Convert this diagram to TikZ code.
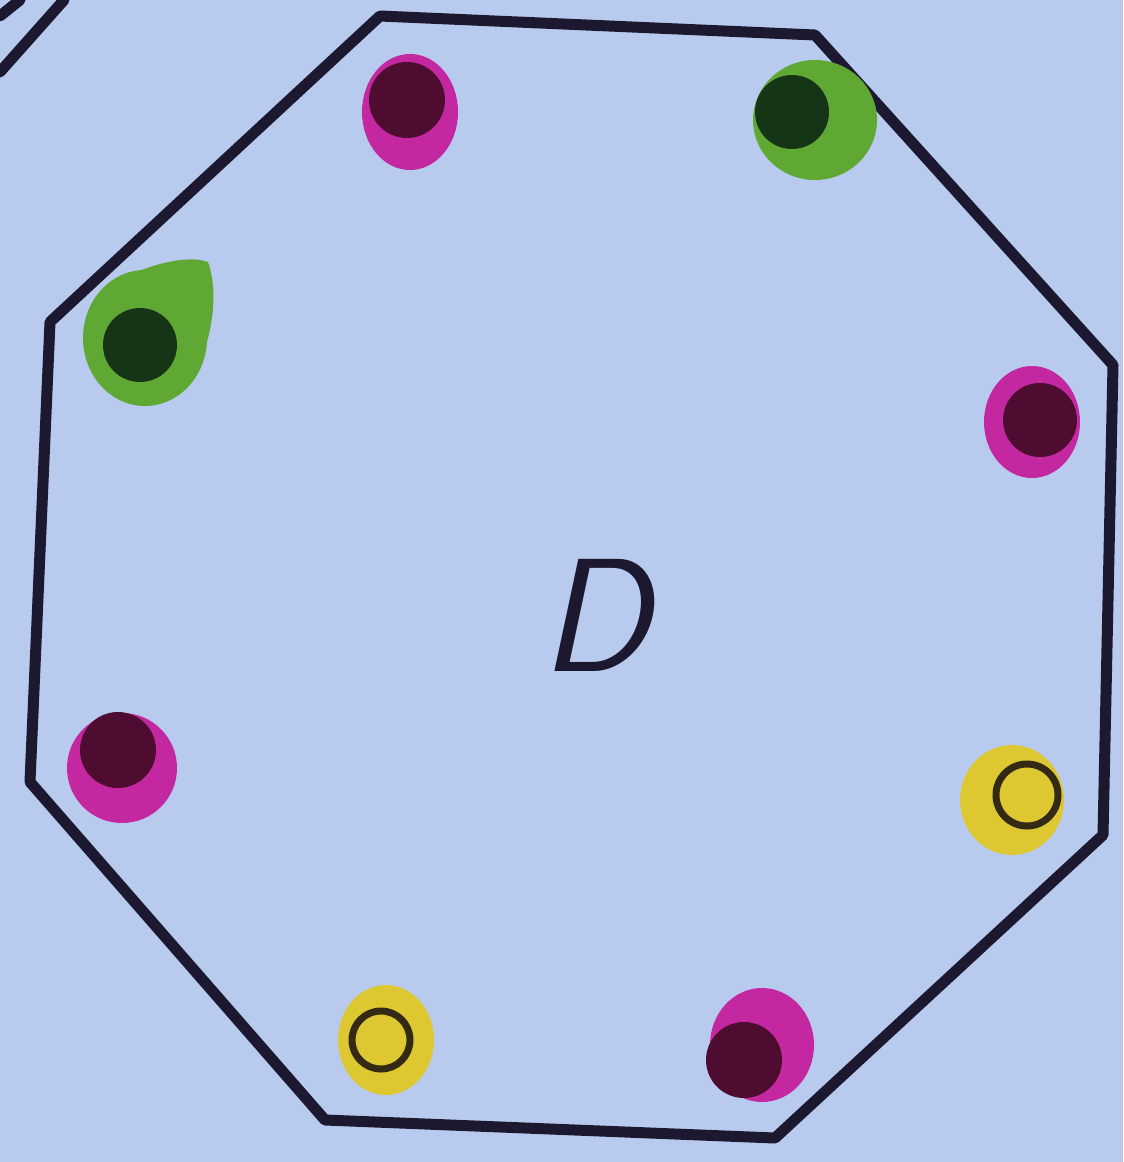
\documentclass[tikz,border=0pt]{standalone}
\usepackage{fontspec}
\definecolor{paper}{RGB}{184,202,238}
\definecolor{ink}{RGB}{28,24,48}
\definecolor{mag}{RGB}{196,40,160}
\definecolor{magdark}{RGB}{78,12,48}
\definecolor{grn}{RGB}{96,168,52}
\definecolor{grndark}{RGB}{22,52,22}
\definecolor{yel}{RGB}{222,200,50}
\definecolor{yelring}{RGB}{52,42,20}
\tikzset{
  px/.style={x=0.02cm,y=-0.02cm},
  outline/.style={draw=ink,line width=11*0.02cm,line join=round,line cap=round},
  blot/.style={fill=#1,draw=none},
  ring/.style={draw=yelring,line width=7*0.02cm}
}
\begin{document}
\begin{tikzpicture}[px]
\fill[paper] (0,0) rectangle (1123,1162);
\useasboundingbox (0,0) rectangle (1123,1162);
% strokes in the top-left corner
\draw[outline] (0,72) -- (64,0);
\draw[outline] (0,16) -- (20,0);
% octagon
\coordinate (v1) at (380,16);
\coordinate (v2) at (815,35);
\coordinate (v3) at (1113,365);
\coordinate (v4) at (1103,835);
\coordinate (v5) at (775,1138);
\coordinate (v6) at (325,1120);
\coordinate (v7) at (30,782);
\coordinate (v8) at (50,322);
\draw[outline] (v1) -- (v2) -- (v3) -- (v4) -- (v5) -- (v6) -- (v7) -- (v8) -- cycle;
% magenta top
\fill[blot=mag] (410,112) ellipse [x radius=48, y radius=58];
\fill[blot=magdark] (407,100) circle [radius=38];
% green top right
\fill[blot=grn] (815,120) ellipse [x radius=62, y radius=60];
\fill[blot=grndark] (792,112) circle [radius=37];
% green left (teardrop)
\fill[blot=grn] (145,338) ellipse [x radius=62, y radius=68];
\fill[blot=grn] (110,285) .. controls (150,262) and (190,255) .. (208,262)
  .. controls (218,290) and (214,330) .. (198,368) -- (145,338) -- cycle;
\fill[blot=grndark] (140,345) circle [radius=37];
% magenta right
\fill[blot=mag] (1032,422) ellipse [x radius=48, y radius=56];
\fill[blot=magdark] (1040,420) circle [radius=37];
% magenta left
\fill[blot=mag] (122,768) ellipse [x radius=55, y radius=55];
\fill[blot=magdark] (118,750) circle [radius=38];
% yellow right
\fill[blot=yel] (1012,800) ellipse [x radius=52, y radius=55];
\draw[ring] (1027,795) circle [radius=31];
% yellow bottom
\fill[blot=yel] (386,1040) ellipse [x radius=48, y radius=55];
\draw[ring] (381,1040) circle [radius=29];
% magenta bottom
\fill[blot=mag] (762,1045) ellipse [x radius=52, y radius=57];
\fill[blot=magdark] (744,1060) circle [radius=38];
% label
\node[text=ink,font=\fontsize{92}{100}\selectfont\sffamily\slshape] (lab) at (595,615) {D};
\end{tikzpicture}
\end{document}
